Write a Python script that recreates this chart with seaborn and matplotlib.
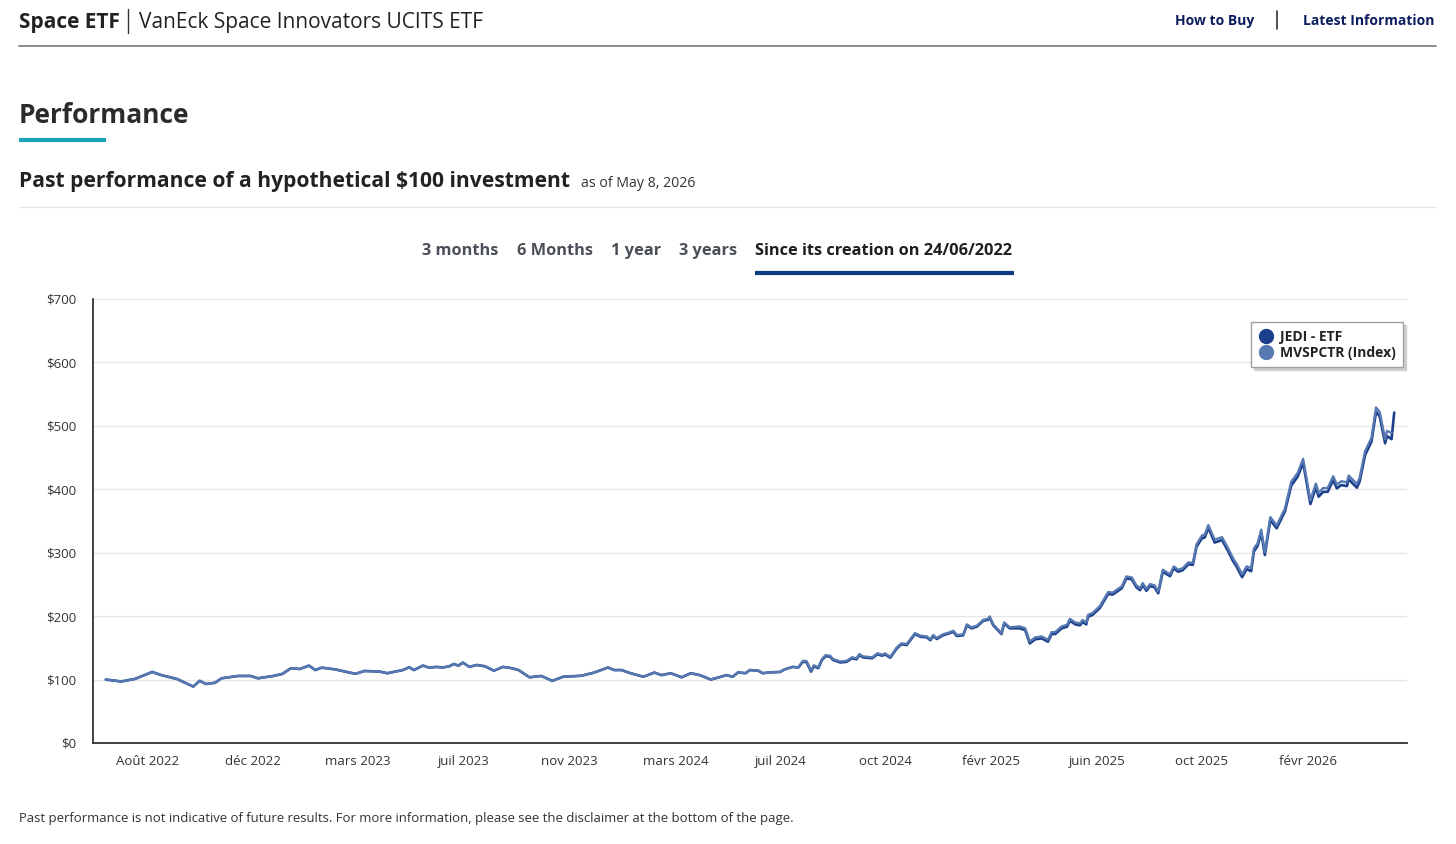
import matplotlib
matplotlib.use("Agg")
import matplotlib.pyplot as plt
from matplotlib.lines import Line2D
import pandas as pd
import seaborn as sns

# --- data ---
launch = "2022-06-24"
days = [0, 17, 32, 51, 61, 78, 96, 103, 110, 120, 127, 145, 159, 167, 184, 194, 203, 213, 223, 230,
        237, 252, 274, 284, 301, 309, 326, 333, 338, 348, 355, 363, 370, 377, 382, 387, 392, 399, 407, 416,
        426, 436, 446, 453, 465, 478, 490, 502, 522, 536, 551, 558, 566, 576, 590, 602, 610, 620, 632, 642,
        652, 664, 674, 681, 688, 694, 702, 707, 716, 721, 729, 740, 745, 754, 760, 765, 769, 774, 777, 782,
        786, 790, 795, 798, 806, 813, 819, 824, 827, 831, 841, 847, 852, 855, 861, 868, 873, 879, 888, 894,
        901, 905, 908, 912, 919, 926, 930, 934, 941, 945, 950, 956, 963, 968, 970, 974, 983, 986, 992, 1003,
        1009, 1014, 1020, 1027, 1034, 1038, 1042, 1049, 1055, 1058, 1064, 1069, 1072, 1076, 1078, 1083, 1091, 1100, 1105, 1115,
        1120, 1126, 1131, 1135, 1138, 1142, 1146, 1151, 1155, 1160, 1168, 1172, 1177, 1182, 1188, 1193, 1197, 1203, 1206, 1210,
        1217, 1225, 1232, 1237, 1241, 1247, 1252, 1257, 1260, 1264, 1268, 1272, 1278, 1285, 1294, 1301, 1308, 1314, 1322, 1328,
        1331, 1336, 1341, 1347, 1351, 1356, 1362, 1364, 1373, 1376, 1382, 1389, 1394, 1398, 1404, 1406, 1411, 1414]

jedi_etf = [100, 97, 101, 112, 107, 101, 89, 98, 93, 95, 102, 105.7, 105.7, 102, 105.7, 109, 117.8, 116.7, 122, 115,
            118.8, 116, 109, 113.6, 112.5, 110, 115, 119.4, 115, 122, 118.8, 120, 119, 121, 124.6, 122, 126.7, 120, 123, 121,
            114, 120, 117.8, 115, 103.6, 105.7, 98, 104.5, 106, 111, 119, 115, 115, 110, 104.5, 111, 107, 110, 103.6, 110,
            107, 100, 104, 107, 104.5, 111.4, 110, 115, 114, 110, 111.4, 112, 116, 120, 119, 128, 127.7, 112.5, 121, 118,
            131, 137, 136, 131, 127, 128, 133.6, 132, 138.7, 135, 133.6, 140, 137.6, 139.8, 134.5, 149, 155.6, 154.5, 171.8, 167.6,
            166.6, 162, 168.7, 164, 170, 173, 175.5, 168.7, 169.8, 185.5, 180.8, 183.4, 192.8, 194, 198, 185.5, 171.8, 188.7, 180.8, 180.8,
            178, 157, 163.5, 165, 159.7, 171.8, 171.8, 180.8, 183.4, 192.8, 187, 185.5, 190.8, 187, 199, 202, 213, 235, 234, 244,
            259.6, 258, 245.5, 241, 249, 240, 247.5, 245.5, 236, 270, 263, 275.4, 270, 272.7, 281.7, 281, 309.5, 322.7, 324, 339,
            316, 320, 301.6, 287, 278, 261.5, 274, 271, 302, 310.5, 331.8, 296.4, 351.6, 338.5, 365, 406, 419.8, 441.9, 376.8, 403,
            388.3, 396, 396, 414.6, 401.5, 406.7, 405, 415.7, 402.5, 412, 454, 475, 522, 515, 472.5, 484, 479, 521]

mvspctr_index = [100, 97, 101, 112, 107, 101, 89, 98, 93, 95, 102, 105.7, 105.7, 102, 105.7, 109, 117.8, 116.7, 122, 115,
                 118.8, 116, 109, 113.6, 112.5, 110, 115, 119.4, 115, 122, 118.8, 120, 119, 121, 124.6, 122, 126.7, 120, 123, 121,
                 114, 120, 117.8, 115, 103.6, 105.7, 98, 104.5, 106, 111, 119, 115, 115, 110, 104.5, 111, 107, 110, 103.6, 110,
                 107, 100, 104, 107, 104.5, 111.4, 110, 115, 114, 110, 111.4, 112, 116, 120, 119, 129.5, 129.2, 114, 122.5, 119.5,
                 132.5, 138.5, 137.5, 132.5, 128.5, 129.5, 135.1, 133.5, 140.2, 136.5, 135.1, 141.5, 139.1, 141.3, 136, 150.5, 157.1, 156, 173.3, 169.1,
                 168.1, 163.5, 170.2, 165.5, 171.5, 174.5, 177, 170.2, 171.3, 187, 182.3, 184.9, 194.3, 195.5, 199.5, 187, 173.3, 190.2, 182.3, 183.8,
                 181, 160, 166.5, 168, 162.7, 174.8, 174.8, 183.8, 186.4, 195.8, 190, 188.5, 193.8, 190, 202, 205, 216, 238, 237, 247,
                 262.6, 261, 248.5, 244, 252, 243, 250.5, 248.5, 239, 273, 266, 278.4, 273, 275.7, 284.7, 284, 313, 327.2, 328.5, 343.5,
                 320.5, 324.5, 306.1, 291.5, 282.5, 266, 278.5, 275.5, 306.5, 315, 336.3, 300.9, 356.1, 343, 369.5, 412, 425.8, 447.9, 382.8, 409,
                 394.3, 402, 402, 420.6, 407.5, 412.7, 411, 421.7, 408.5, 418, 460, 481, 529, 522, 479, 492, 489, None]

series_names = ["JEDI - ETF", "MVSPCTR (Index)"]

y_ticks = [0, 100, 200, 300, 400, 500, 600, 700]
y_labels = ["$0", "$100", "$200", "$300", "$400", "$500", "$600", "$700"]

x_tick_dates = ["2022-08-09", "2022-12-03", "2023-03-28", "2023-07-22", "2023-11-15", "2024-03-10",
                "2024-07-04", "2024-10-27", "2025-02-20", "2025-06-16", "2025-10-09", "2026-02-02"]
x_tick_labels = ["Août 2022", "déc 2022", "mars 2023", "juil 2023", "nov 2023", "mars 2024",
                 "juil 2024", "oct 2024", "févr 2025", "juin 2025", "oct 2025", "févr 2026"]

tabs = ["3 months", "6 Months", "1 year", "3 years", "Since its creation on 24/06/2022"]

# --- style ---
ETF_COLOR = "#1c3f8c"
IDX_COLOR = "#5679b1"

sns.set_theme(style="white")
plt.rcParams["font.family"] = ["Open Sans", "DejaVu Sans"]

W, H = 1456, 844
fig = plt.figure(figsize=(W / 100, H / 100), dpi=100)
fig.patch.set_facecolor("white")


def fx(x):
    return x / W


def fy(y):
    return 1 - y / H


df = pd.DataFrame({
    "date": pd.to_datetime(launch) + pd.to_timedelta(days, unit="D"),
    "etf": jedi_etf,
    "index": pd.to_numeric(pd.Series(mvspctr_index), errors="coerce"),
})

ax = fig.add_axes([fx(93), fy(743), fx(1407) - fx(93), fy(299) - fy(743)])
sns.lineplot(data=df, x="date", y="etf", ax=ax, color=ETF_COLOR, linewidth=1.9)
sns.lineplot(data=df.dropna(), x="date", y="index", ax=ax, color=IDX_COLOR, linewidth=1.7)

ax.set_xlim(pd.Timestamp("2022-06-10"), pd.Timestamp("2026-05-22"))
ax.set_ylim(0, 700)
ax.set_yticks(y_ticks, labels=y_labels)
ax.set_xticks(pd.to_datetime(x_tick_dates), labels=x_tick_labels)
ax.set_xlabel("")
ax.set_ylabel("")

ax.grid(axis="y", color="#e6e6e6", linewidth=1)
ax.grid(axis="x", visible=False)
ax.set_axisbelow(True)
for side in ["top", "right"]:
    ax.spines[side].set_visible(False)
for side in ["left", "bottom"]:
    ax.spines[side].set_color("#333333")
    ax.spines[side].set_linewidth(1.3)

ax.tick_params(axis="x", length=8, width=1, color="#ccd6eb", labelcolor="#333333", labelsize=9.5, pad=0.5)
ax.tick_params(axis="y", length=0, labelcolor="#333333", labelsize=9.5, pad=12)

handles = [
    Line2D([], [], marker="o", ls="", markersize=10, markerfacecolor=ETF_COLOR, markeredgecolor=ETF_COLOR),
    Line2D([], [], marker="o", ls="", markersize=10, markerfacecolor=IDX_COLOR, markeredgecolor=IDX_COLOR),
]
leg = ax.legend(handles, series_names, loc="upper right", bbox_to_anchor=(0.997, 0.948),
                frameon=True, fancybox=False, edgecolor="#a0a0a0", framealpha=1,
                shadow={"color": "#cfcfcf", "alpha": 1},
                prop={"size": 10, "weight": "bold"},
                handletextpad=0.5, borderpad=0.55, labelspacing=0.15, handlelength=1.0, borderaxespad=0)
for t in leg.get_texts():
    t.set_color("#222222")

# --- page elements around the chart ---
fig.text(fx(19), fy(28), "Space ETF", fontsize=15, weight="bold", color="#222222", va="baseline")
fig.add_artist(Line2D([fx(128), fx(128)], [fy(9), fy(33)], color="#333333", lw=1))
fig.text(fx(139), fy(28), "VanEck Space Innovators UCITS ETF", fontsize=15, color="#222222", va="baseline")

fig.text(fx(1254), fy(25), "How to Buy", ha="right", fontsize=10, weight="bold", color="#0b1d5e", va="baseline")
fig.add_artist(Line2D([fx(1277), fx(1277)], [fy(11), fy(29)], color="#333333", lw=1.2))
fig.text(fx(1434), fy(25), "Latest Information", ha="right", fontsize=10, weight="bold", color="#0b1d5e", va="baseline")
fig.add_artist(Line2D([fx(19), fx(1436)], [fy(46), fy(46)], color="#777777", lw=1.2))

fig.text(fx(19), fy(123), "Performance", fontsize=19, weight="bold", color="#2b2b2b", va="baseline")
fig.add_artist(Line2D([fx(19), fx(106)], [fy(140), fy(140)], color="#1ba4b9", lw=3, solid_capstyle="butt"))

fig.text(fx(19), fy(187), "Past performance of a hypothetical $100 investment", fontsize=15.1,
         weight="bold", color="#222222", va="baseline")
fig.text(fx(581), fy(187), "as of May 8, 2026", fontsize=10.2, color="#333333", va="baseline")
fig.add_artist(Line2D([fx(19), fx(1436)], [fy(207), fy(207)], color="#e8e8e8", lw=1))

tab_x = [422, 517, 611, 679, 755]
for i, (label, x) in enumerate(zip(tabs, tab_x)):
    active = i == len(tabs) - 1
    fig.text(fx(x), fy(255), label, fontsize=11.8, weight="bold",
             color="#1e1e1e" if active else "#4b4f58", va="baseline")
fig.add_artist(Line2D([fx(755), fx(1014)], [fy(273), fy(273)], color="#0c3b82", lw=3, solid_capstyle="butt"))

fig.text(fx(19), fy(822),
         "Past performance is not indicative of future results. For more information, please see the disclaimer at the bottom of the page.",
         fontsize=9.45, color="#333333", va="baseline")

fig.savefig("out.png", dpi=100, facecolor="white")
